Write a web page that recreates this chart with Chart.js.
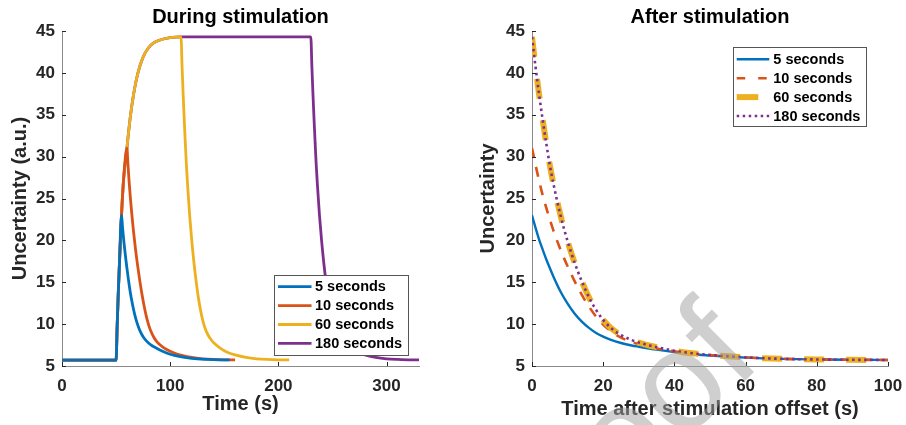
<!DOCTYPE html>
<html>
<head>
<meta charset="utf-8">
<script src="https://cdn.jsdelivr.net/npm/chart.js@4.4.1/dist/chart.umd.min.js"></script>
<style>
  body { margin: 0; background: #fff; }
  #wrap { position: relative; width: 906px; height: 425px; }
  canvas { position: absolute; top: 0; }
  #during { left: 0; }
  #after { left: 453px; }
  #mark { left: 0; pointer-events: none; }
</style>
</head>
<body>
<div id="wrap">
  <canvas id="during" width="453" height="425"></canvas>
  <canvas id="after" width="453" height="425"></canvas>
  <canvas id="mark" width="906" height="425"></canvas>
</div>
<script>
// Series labels and stimulation durations (s)
const seriesLabels = ['5 seconds', '10 seconds', '60 seconds', '180 seconds'];
const stimDurations = [5, 10, 60, 180];
const stimOnset = 50;

// Baseline before the stimulus
const preTime = [0];
const preValues = [5.7];

// Uncertainty growth during stimulation (time since onset, s)
const riseTime = [0, 1, 2, 3, 5, 7, 10, 13, 16, 20, 25, 30, 35, 40, 50, 60, 180];
const riseValues = [5.7, 9.8, 13.6, 16.9, 23.0, 27.4, 31.0, 34.6, 37.3, 39.9, 41.9, 43.0, 43.6, 43.9, 44.2, 44.3, 44.3];

// Decay after stimulation offset (time since offset, s)
const decayTime = [0, 1, 2, 3, 4, 5, 6, 8, 10, 12, 14, 16, 18, 20, 22, 25, 28, 30, 35, 40, 45, 50, 60, 70, 80, 90, 100];
const decay5 = [23.0, 21.5, 20.1, 18.9, 17.75, 16.7, 15.7, 13.9, 12.45, 11.25, 10.3, 9.55, 8.95, 8.5, 8.15, 7.75, 7.45, 7.3, 6.95, 6.65, 6.4, 6.25, 6.0, 5.85, 5.78, 5.74, 5.72];
const decay10 = [31.0, 29.0, 27.1, 25.4, 23.9, 22.5, 21.2, 18.9, 16.9, 15.1, 13.5, 12.1, 10.9, 9.95, 9.2, 8.4, 7.85, 7.6, 7.1, 6.75, 6.48, 6.3, 6.02, 5.86, 5.78, 5.74, 5.72];
const decay60 = [44.3, 40.7, 37.4, 34.4, 31.6, 29.0, 26.8, 23.0, 19.9, 17.3, 15.1, 13.2, 11.7, 10.5, 9.6, 8.7, 8.1, 7.8, 7.25, 6.82, 6.52, 6.32, 6.03, 5.86, 5.78, 5.74, 5.72];
const decay180 = [44.3, 40.7, 37.4, 34.4, 31.6, 29.0, 26.8, 23.0, 19.9, 17.3, 15.1, 13.2, 11.7, 10.5, 9.6, 8.7, 8.1, 7.8, 7.25, 6.82, 6.52, 6.32, 6.03, 5.86, 5.78, 5.74, 5.72];
const decayValues = [decay5, decay10, decay60, decay180];

const colors = ['#0072BD', '#D95319', '#EDB120', '#7E2F8E'];
const FONT = '"Liberation Sans", Arial, Helvetica, sans-serif';

Chart.defaults.font.family = FONT;
Chart.defaults.font.weight = 'bold';
Chart.defaults.color = '#262626';

/**
 * Build the full time course for one stimulation duration
 */
function duringSeries(k) {
    const dur = stimDurations[k];
    const pts = preTime.map((t, i) => ({ x: t, y: preValues[i] }));
    riseTime.forEach((t, i) => {
        if (t <= dur) pts.push({ x: stimOnset + t, y: riseValues[i] });
    });
    decayTime.forEach((t, i) => {
        if (t > 0) pts.push({ x: stimOnset + dur + t, y: decayValues[k][i] });
    });
    return pts;
}

function afterSeries(k) {
    return decayTime.map((t, i) => ({ x: t, y: decayValues[k][i] }));
}

// Inward tick marks like the original figure
const innerTicks = {
    id: 'innerTicks',
    afterDraw(chart) {
        const { ctx, chartArea } = chart;
        const xs = chart.scales.x;
        const ys = chart.scales.y;
        ctx.save();
        ctx.strokeStyle = '#262626';
        ctx.lineWidth = 1;
        ctx.beginPath();
        xs.ticks.forEach(t => {
            const px = Math.round(xs.getPixelForValue(t.value)) + 0.5;
            ctx.moveTo(px, chartArea.bottom);
            ctx.lineTo(px, chartArea.bottom - 4);
        });
        ys.ticks.forEach(t => {
            const py = Math.round(ys.getPixelForValue(t.value)) + 0.5;
            ctx.moveTo(chartArea.left, py);
            ctx.lineTo(chartArea.left + 4, py);
        });
        ctx.stroke();
        ctx.restore();
    }
};

// Boxed legend placed inside the axes
const boxLegend = {
    id: 'boxLegend',
    afterDraw(chart, args, opts) {
        const ctx = chart.ctx;
        const [bx, by, bw, bh] = opts.box;
        ctx.save();
        ctx.fillStyle = '#fff';
        ctx.fillRect(bx, by, bw, bh);
        ctx.strokeStyle = '#555';
        ctx.lineWidth = 1;
        ctx.strokeRect(Math.round(bx) + 0.5, Math.round(by) + 0.5, Math.round(bw), Math.round(bh));
        ctx.font = 'bold 14.5px ' + FONT;
        ctx.textBaseline = 'middle';
        chart.data.datasets.forEach((ds, i) => {
            const rowY = by + opts.firstRow + i * opts.rowGap;
            ctx.strokeStyle = ds.borderColor;
            ctx.lineWidth = opts.sampleWidth ? opts.sampleWidth[i] : ds.borderWidth;
            ctx.setLineDash(opts.sampleDash ? opts.sampleDash[i] : []);
            ctx.beginPath();
            ctx.moveTo(bx + opts.sampleStart, rowY);
            ctx.lineTo(bx + opts.sampleStart + opts.sampleLen[i], rowY);
            ctx.stroke();
            ctx.setLineDash([]);
            ctx.fillStyle = '#000';
            ctx.fillText(ds.label, bx + opts.textStart, rowY + 0.5);
        });
        ctx.restore();
    }
};

function axisOptions(min, max, step, titleText, titlePad, fitSize, horizontal) {
    return {
        type: 'linear',
        min: min,
        max: max,
        grid: { display: false, drawTicks: false, tickLength: 0 },
        border: { display: true, color: '#8a8a8a', width: 1 },
        ticks: {
            stepSize: step,
            includeBounds: false,
            padding: horizontal ? 10 : 7,
            color: '#262626',
            font: { size: 17, weight: 'bold' }
        },
        title: {
            display: true,
            text: titleText,
            color: '#262626',
            font: { size: 20, weight: 'bold' },
            padding: titlePad
        },
        afterFit(scale) {
            if (horizontal) {
                scale.height = fitSize;
                // layout padding already leaves room for the end labels
                scale.paddingLeft = 0;
                scale.paddingRight = 0;
            } else {
                scale.width = fitSize;
            }
        }
    };
}

// Left panel: during stimulation
new Chart(document.getElementById('during'), {
    type: 'line',
    data: {
        datasets: seriesLabels.map((label, k) => ({
            label: label,
            data: duringSeries(k),
            borderColor: colors[k],
            borderWidth: 2.8,
            pointRadius: 0,
            fill: false,
            cubicInterpolationMode: 'monotone'
        }))
    },
    options: {
        responsive: false,
        devicePixelRatio: 1,
        animation: false,
        layout: { padding: { left: 0, right: 34, top: 0, bottom: 0 } },
        scales: {
            x: axisOptions(0, 330, 100, 'Time (s)', { top: 0, bottom: 9 }, 59, true),
            y: axisOptions(5, 45, 5, 'Uncertainty (a.u.)', { top: 8.7, bottom: 0 }, 62, false)
        },
        plugins: {
            legend: { display: false },
            tooltip: { enabled: false },
            title: {
                display: true,
                text: 'During stimulation',
                fullSize: false,
                color: '#000',
                font: { size: 20, weight: 'bold' },
                padding: { top: 5.4, bottom: 1.6 }
            },
            boxLegend: {
                box: [274, 275, 134, 80],
                firstRow: 11.7,
                rowGap: 18.9,
                sampleStart: 4,
                sampleLen: [33.5, 33.5, 33.5, 33.5],
                textStart: 41
            }
        }
    },
    plugins: [innerTicks, boxLegend]
});

// Right panel: after stimulation offset
const afterStyles = [
    { width: 2.4, dash: [] },
    { width: 2.6, dash: [10, 9] },
    { width: 6, dash: [20, 22] },
    { width: 2.6, dash: [2.5, 3.5] }
];

new Chart(document.getElementById('after'), {
    type: 'line',
    data: {
        datasets: seriesLabels.map((label, k) => ({
            label: label,
            data: afterSeries(k),
            borderColor: colors[k],
            borderWidth: afterStyles[k].width,
            borderDash: afterStyles[k].dash,
            pointRadius: 0,
            fill: false,
            order: 3 - k,
            cubicInterpolationMode: 'monotone'
        }))
    },
    options: {
        responsive: false,
        devicePixelRatio: 1,
        animation: false,
        layout: { padding: { left: 0, right: 18, top: 0, bottom: 0 } },
        scales: {
            x: axisOptions(0, 100, 20, 'Time after stimulation offset (s)', { top: 0, bottom: 3.6 }, 59, true),
            y: axisOptions(5, 45, 5, 'Uncertainty', { top: 23.7, bottom: 0 }, 79, false)
        },
        plugins: {
            legend: { display: false },
            tooltip: { enabled: false },
            title: {
                display: true,
                text: 'After stimulation',
                fullSize: false,
                color: '#000',
                font: { size: 20, weight: 'bold' },
                padding: { top: 5.4, bottom: 1.6 }
            },
            boxLegend: {
                box: [280, 47, 133, 79],
                firstRow: 12.3,
                rowGap: 18.9,
                sampleStart: 3.7,
                sampleLen: [32.6, 32.6, 21.6, 32.6],
                sampleWidth: [2.4, 2.6, 6, 2.6],
                sampleDash: [[], [8.5, 13], [], [2.5, 3.5]],
                textStart: 40.3
            }
        }
    },
    plugins: [innerTicks, boxLegend]
});

// Faint "Journal Pre-proof" watermark over the figure
const mark = document.getElementById('mark').getContext('2d');
mark.save();
mark.translate(764, 362);
mark.rotate(-Math.PI / 4);
mark.font = '140px ' + FONT;
mark.textAlign = 'right';
mark.textBaseline = 'alphabetic';
mark.fillStyle = 'rgba(160, 160, 160, 0.5)';
mark.fillText('Journal Pre-proof', 0, 0);
mark.restore();
</script>
</body>
</html>
